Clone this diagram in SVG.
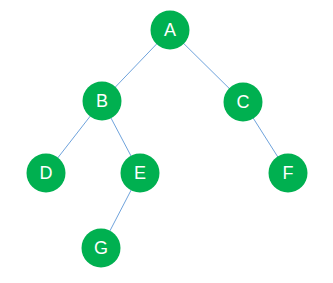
<svg xmlns="http://www.w3.org/2000/svg" width="333" height="283" viewBox="0 0 333 283">
<style>
.n{fill:#00b050}
.t{fill:#fff;font-family:"Liberation Sans",Arial,sans-serif;font-size:18px;text-anchor:middle;dominant-baseline:central}
.e{stroke:#6fa3dc;stroke-width:1;fill:none}
</style>
<rect width="333" height="283" fill="#fff"/>
<g id="edges">
<line class="e" x1="170" y1="30" x2="102" y2="101"/>
<line class="e" x1="170" y1="30" x2="243" y2="102"/>
<line class="e" x1="102" y1="101" x2="46" y2="173"/>
<line class="e" x1="102" y1="101" x2="140" y2="173"/>
<line class="e" x1="243" y1="102" x2="288" y2="173"/>
<line class="e" x1="140" y1="173" x2="101" y2="248"/>
</g>
<g id="A"><circle class="n" cx="170" cy="30" r="19.5"/><text class="t" x="170" y="30">A</text></g>
<g id="B"><circle class="n" cx="102" cy="101" r="19.5"/><text class="t" x="102" y="101">B</text></g>
<g id="C"><circle class="n" cx="243" cy="102" r="19.5"/><text class="t" x="243" y="102">C</text></g>
<g id="D"><circle class="n" cx="46" cy="173" r="19.5"/><text class="t" x="46" y="173">D</text></g>
<g id="E"><circle class="n" cx="140" cy="173" r="19.5"/><text class="t" x="140" y="173">E</text></g>
<g id="F"><circle class="n" cx="288" cy="173" r="19.5"/><text class="t" x="288" y="173">F</text></g>
<g id="G"><circle class="n" cx="101" cy="248" r="19.5"/><text class="t" x="101" y="248">G</text></g>
</svg>
